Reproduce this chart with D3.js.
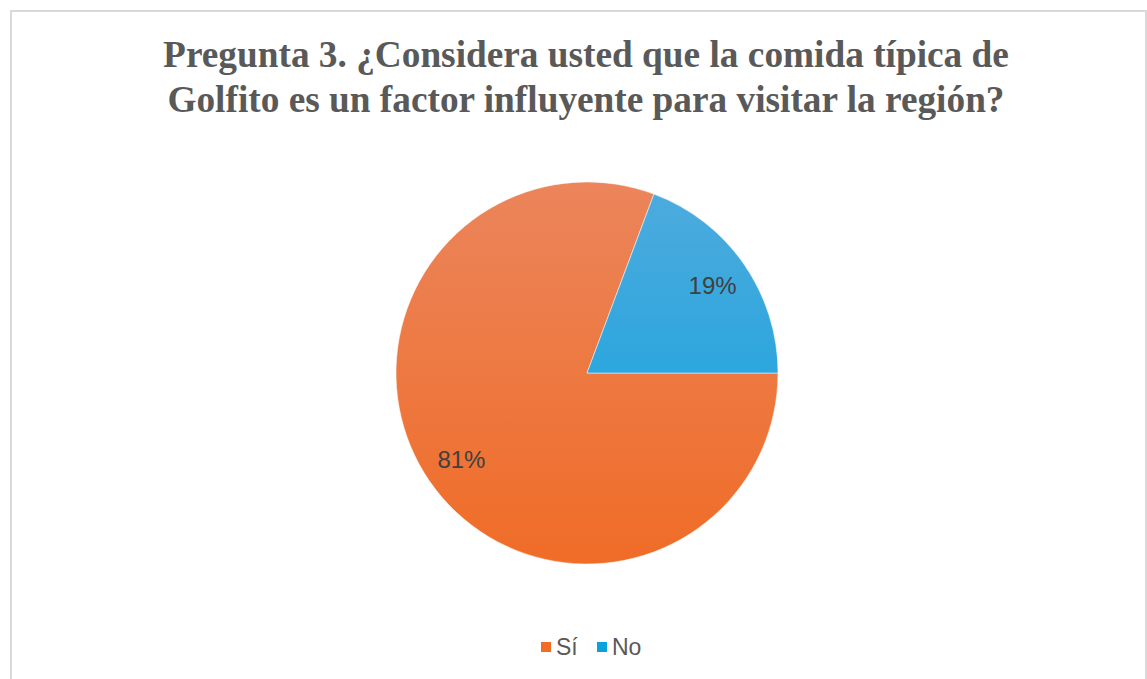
<!DOCTYPE html>
<html>
<head>
<meta charset="utf-8">
<script src="https://cdn.jsdelivr.net/npm/d3@7"></script>
<style>
  body { margin: 0; background: #fff; }
  svg { display: block; }
</style>
</head>
<body>
<svg id="chart"></svg>
<script>
// datos de la pregunta 3
const categories = ["Sí", "No"];
const values = [80.7, 19.3];
const labels = ["81%", "19%"];
const titleLines = [
  "Pregunta 3. ¿Considera usted que la comida típica de",
  "Golfito es un factor influyente para visitar la región?"
];

const width = 1147;
const height = 679;
const cx = 587, cy = 373, radius = 191;

const svg = d3.select("#chart")
  .attr("width", width)
  .attr("height", height);

// marco del gráfico
svg.append("rect")
  .attr("x", 11).attr("y", 11)
  .attr("width", width - 12).attr("height", height + 10)
  .attr("fill", "none")
  .attr("stroke", "#d9d9d9")
  .attr("stroke-width", 2);

// gradientes verticales como en Excel
const defs = svg.append("defs");
const gradColors = [
  ["#eb855b", "#f06c27"],
  ["#4fabdd", "#0aa1df"]
];
gradColors.forEach((c, i) => {
  const g = defs.append("linearGradient")
    .attr("id", "grad" + i)
    .attr("gradientUnits", "userSpaceOnUse")
    .attr("x1", 0).attr("y1", -radius)
    .attr("x2", 0).attr("y2", radius);
  g.append("stop").attr("offset", "0%").attr("stop-color", c[0]);
  g.append("stop").attr("offset", "100%").attr("stop-color", c[1]);
});

// título
svg.append("g")
  .selectAll("text")
  .data(titleLines)
  .enter().append("text")
  .attr("x", 586)
  .attr("y", (d, i) => 66.5 + i * 45)
  .attr("text-anchor", "middle")
  .style("font-family", "'Liberation Serif', 'Times New Roman', serif")
  .style("font-weight", "bold")
  .style("font-size", "37.3px")
  .style("fill", "#595959")
  .text(d => d);

const data = categories.map((c, i) => ({ cat: c, value: values[i], label: labels[i], i }));

const pie = d3.pie()
  .sort(null)
  .value(d => d.value)
  .startAngle(Math.PI / 2)
  .endAngle(Math.PI / 2 + 2 * Math.PI);

const arc = d3.arc().innerRadius(0).outerRadius(radius);
const labelArc = d3.arc().innerRadius(radius * 0.8).outerRadius(radius * 0.8);

const g = svg.append("g").attr("transform", `translate(${cx},${cy})`);

const arcs = pie(data);

g.selectAll("path")
  .data(arcs)
  .enter().append("path")
  .attr("d", arc)
  .attr("fill", d => `url(#grad${d.data.i})`)
  .attr("stroke", "#fff")
  .attr("stroke-width", 0.5);

g.selectAll("text")
  .data(arcs)
  .enter().append("text")
  .attr("transform", d => `translate(${labelArc.centroid(d)})`)
  .attr("text-anchor", "middle")
  .attr("dy", "0.35em")
  .style("font-family", "'Liberation Sans', Arial, sans-serif")
  .style("font-size", "24px")
  .style("fill", "#404040")
  .text(d => d.data.label);

// leyenda
const legend = svg.append("g").attr("transform", "translate(541,647)");
const legendX = [0, 56];
const item = legend.selectAll("g")
  .data(data)
  .enter().append("g")
  .attr("transform", (d, i) => `translate(${legendX[i]},0)`);

item.append("rect")
  .attr("x", 0).attr("y", -5)
  .attr("width", 10).attr("height", 10)
  .attr("fill", d => gradColors[d.i][1]);

item.append("text")
  .attr("x", 15)
  .attr("dy", "0.36em")
  .style("font-family", "'Liberation Sans', Arial, sans-serif")
  .style("font-size", "23px")
  .style("fill", "#595959")
  .text(d => d.cat);
</script>
</body>
</html>
